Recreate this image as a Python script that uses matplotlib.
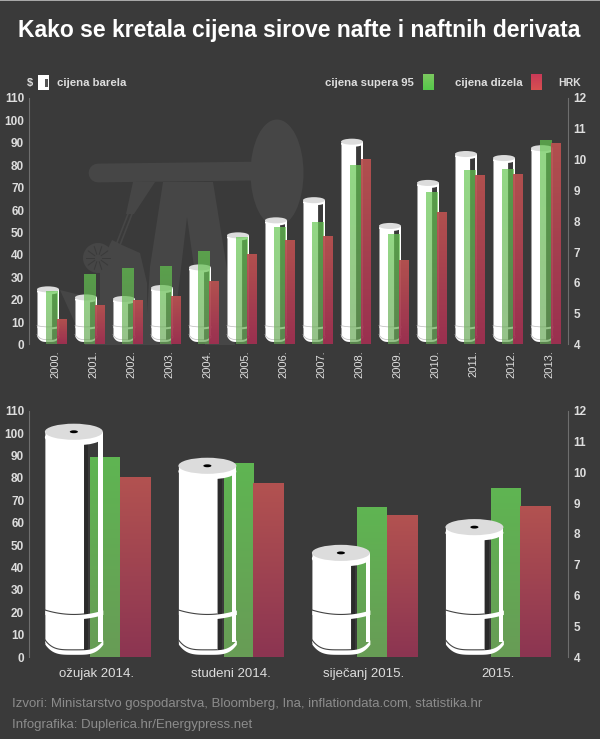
import numpy as np
import matplotlib
matplotlib.use("Agg")
import matplotlib.pyplot as plt
from matplotlib.colors import LinearSegmentedColormap
from matplotlib.patches import Ellipse, Polygon, Circle, Rectangle

plt.rcParams['font.family'] = ['Liberation Sans', 'DejaVu Sans']

BG = '#3a3a3a'
PUMP = '#464646'
W, H = 600, 739

# gornji graf, godine
years = ['2000.', '2001.', '2002.', '2003.', '2004.', '2005.', '2006.',
         '2007.', '2008.', '2009.', '2010.', '2011.', '2012.', '2013.']
barrel_years = [24.6, 21, 20.3, 25.2, 34.4, 48.7, 55.4, 64.4, 90.5, 52.9, 72.1, 85, 83.2, 87.6]
super95_years = [5.7, 6.24, 6.44, 6.5, 7.0, 7.46, 7.77, 7.95, 9.79, 7.55, 8.93, 9.62, 9.65, 10.6]
diesel_years = [4.79, 5.24, 5.4, 5.54, 6.02, 6.9, 7.35, 7.48, 9.98, 6.7, 8.26, 9.46, 9.5, 10.5]

# donji graf
periods = ['ožujak 2014.', 'studeni 2014.', 'siječanj 2015.', '2015.']
barrel_periods = [100.6, 85.4, 46.5, 58]
super95_periods = [10.48, 10.3, 8.85, 9.47]
diesel_periods = [9.82, 9.65, 8.58, 8.9]

left_ticks = list(range(0, 111, 10))
right_ticks = list(range(4, 13))

GREEN = LinearSegmentedColormap.from_list('g', ['#5fb552', '#689c56'])
RED = LinearSegmentedColormap.from_list('r', ['#b25250', '#8c3552'])
GREEN_TOP = LinearSegmentedColormap.from_list('g2', ['#64c850', '#6aa858'])
RED_TOP = LinearSegmentedColormap.from_list('r2', ['#b85250', '#a03052'])
GRAD = np.linspace(0, 1, 64).reshape(-1, 1)


def px_axes(fig, x0, x1, y_top, y_bottom):
    return fig.add_axes([x0 / W, 1 - y_bottom / H, (x1 - x0) / W, (y_bottom - y_top) / H])


def gradient_bars(ax, xs, values, width, cmap, base=4, alpha=1.0):
    bars = ax.bar(xs, np.array(values) - base, width, bottom=base, align='edge', facecolor='none', linewidth=0)
    for b in bars:
        ax.imshow(GRAD, extent=[b.get_x(), b.get_x() + b.get_width(), base, base + b.get_height()],
                  cmap=cmap, aspect='auto', alpha=alpha, zorder=3, origin='upper')


def band(ax, x0, x1, y_end, sag, thick, power=2, color='white', zorder=2):
    t = np.linspace(-1, 1, 40)
    xs = x0 + (x1 - x0) * (t + 1) / 2
    yc = y_end - sag * (1 - t ** power)
    ax.fill_between(xs, yc - thick / 2, yc + thick / 2, color=color, linewidth=0, zorder=zorder)
    return xs, yc


def draw_barrel(ax, left, w, top, ry, hoop, hoop_sag, foot, foot_sag, thick, line, lw, hole):
    # bijeli dio, prorez desno, pa obruci preko proreza
    body = 0.68 * w
    ax.add_patch(Rectangle((left + 0.925 * w, foot), 0.075 * w, top - foot, color='white', lw=0, zorder=2))
    ax.add_patch(Rectangle((left + body, foot - foot_sag), 0.07 * w, top - foot + foot_sag,
                           color='#262626', alpha=0.75, lw=0, zorder=1.9))
    t = np.linspace(-1, 1, 40)
    xs = left + w * (t + 1) / 2
    yc = foot - foot_sag * (1 - t ** 4)
    keep = xs <= left + body
    ax.fill_between(xs[keep], yc[keep], top, color='white', linewidth=0, zorder=2)
    for y_end, sag, power in [(hoop, hoop_sag, 2), (foot, foot_sag, 4)]:
        xs, yc = band(ax, left, left + w, y_end, sag, thick, power)
        keep = xs < left + body
        ax.plot(xs[keep], (yc + thick / 2)[keep], color=line, lw=lw, zorder=2.1)
    ax.add_patch(Ellipse((left + w / 2, top - 0.7 * ry), w, 2 * ry, color='white', lw=0, zorder=2.2))
    ax.add_patch(Ellipse((left + w / 2, top), w, 2 * ry, color='#dcdcdc', lw=0, zorder=2.3))
    if hole:
        ax.add_patch(Ellipse((left + w / 2, top), 0.14 * w, 0.36 * ry, color='black', lw=0, zorder=2.4))


def style_axes(ax, ax2, xlim):
    for a in (ax, ax2):
        a.set_xlim(*xlim)
        for s in a.spines.values():
            s.set_visible(False)
        a.patch.set_visible(False)
    ax.set_ylim(0, 110)
    ax2.set_ylim(4, 12)
    ax.spines['left'].set_visible(True)
    ax.spines['left'].set_color('#6e6e6e')
    ax2.spines['right'].set_visible(True)
    ax2.spines['right'].set_color('#6e6e6e')
    ax.set_yticks(left_ticks)
    ax2.set_yticks(right_ticks)
    ax.tick_params(axis='y', length=0, pad=3.5, labelcolor='#dddddd')
    ax2.tick_params(axis='y', length=0, pad=4, labelcolor='#dddddd')
    ax2.tick_params(axis='x', length=0, labelbottom=False)
    for lab in ax.get_yticklabels() + ax2.get_yticklabels():
        lab.set_fontsize(8.5)
        lab.set_fontweight('bold')


def draw_pump(bg):
    bg.add_patch(Ellipse((277, 173), 53, 107, color=PUMP, lw=0))
    bg.plot([98, 262], [173, 171], color=PUMP, lw=13.5, solid_capstyle='round')
    bg.add_patch(Polygon([(163, 182), (213, 182), (232, 300), (235, 345), (205, 345), (187, 217),
                          (172, 345), (145, 345), (150, 267)], color=PUMP, lw=0))
    bg.add_patch(Polygon([(133, 182), (155, 182), (134, 214), (126, 214)], color=PUMP, lw=0))
    bg.plot([128, 116], [214, 245], color=PUMP, lw=1.2)
    bg.plot([132, 120], [214, 245], color=PUMP, lw=1.2)
    bg.add_patch(Polygon([(112, 240), (122, 245), (140, 253), (147, 283), (147, 345), (100, 345), (100, 265)],
                         color=PUMP, lw=0))
    bg.add_patch(Polygon([(60, 290), (100, 300), (100, 345), (85, 345)], color=PUMP, lw=0))
    bg.add_patch(Circle((98, 258), 15, color=PUMP, lw=0))
    for ang in np.deg2rad(np.arange(0, 360, 36)):
        bg.plot([98 + 4 * np.cos(ang), 98 + 12 * np.cos(ang)], [258 + 4 * np.sin(ang), 258 + 12 * np.sin(ang)],
                color=BG, lw=0.7)


fig = plt.figure(figsize=(W / 100, H / 100), dpi=100, facecolor=BG)

# pozadina u pikselima: silueta, naslov, legenda, izvori
bg = fig.add_axes([0, 0, 1, 1])
bg.set_xlim(0, W)
bg.set_ylim(H, 0)
bg.axis('off')
bg.add_patch(Rectangle((0, 0), W, 1.2, color='#a8a8a8', lw=0))
draw_pump(bg)

bg.text(18, 30, 'Kako se kretala cijena sirove nafte i naftnih derivata', color='white',
        fontsize=16.5, fontweight='bold', va='center', ha='left')
bg.text(27, 83, '$', color='#dddddd', fontsize=8, fontweight='bold', va='center')
bg.add_patch(Rectangle((38, 75), 11, 15, color='white', lw=0))
bg.add_patch(Rectangle((45, 79), 3, 8, color='#555555', lw=0))
bg.text(57, 83, 'cijena barela', color='#dddddd', fontsize=8.2, fontweight='bold', va='center')
bg.text(325, 83, 'cijena supera 95', color='#dddddd', fontsize=8.2, fontweight='bold', va='center')
bg.imshow(GRAD, extent=[423, 433.5, 90, 74], cmap=LinearSegmentedColormap.from_list('lg', ['#55c84a', '#7cc860']),
          aspect='auto', origin='lower')
bg.text(455, 83, 'cijena dizela', color='#dddddd', fontsize=8.2, fontweight='bold', va='center')
bg.imshow(GRAD, extent=[531, 542, 90, 74], cmap=LinearSegmentedColormap.from_list('lr', ['#d85050', '#c83a58']),
          aspect='auto', origin='lower')
bg.text(558, 83, 'HRK', color='#dddddd', fontsize=7.5, fontweight='bold', va='center')
bg.text(12, 704, 'Izvori: Ministarstvo gospodarstva, Bloomberg, Ina, inflationdata.com, statistika.hr',
        color='#8c8c8c', fontsize=9.5, va='center')
bg.text(12, 725, 'Infografika: Duplerica.hr/Energypress.net', color='#8c8c8c', fontsize=9.5, va='center')
bg.set_xlim(0, W)
bg.set_ylim(H, 0)

# gornji graf
ax = px_axes(fig, 29, 568, 98, 344.5)
ax2 = ax.twinx()
xs = np.arange(len(years))
for i, val in enumerate(barrel_years):
    draw_barrel(ax, i - 0.474, 0.579, val, 1.35, 8, 0.6, 4.0, 2.2, 0.9, '#b8b8b8', 0.5, False)
    ax.hlines(0, i - 0.474, i + 0.3, color='#2a2a2a', lw=0.7, zorder=1)
gradient_bars(ax2, xs - 0.237, super95_years, 0.29, GREEN_TOP, alpha=0.7)
gradient_bars(ax2, xs + 0.053, diesel_years, 0.25, RED_TOP, alpha=0.95)
style_axes(ax, ax2, (-0.684, 13.5))
ax.set_xticks(xs)
ax.set_xticklabels(years, rotation=90, fontsize=8, color='#dddddd')
ax.tick_params(axis='x', length=0, pad=4)

# donji graf, bacve idu preko stupaca
ax = px_axes(fig, 29, 568, 410.7, 657)
ax2 = ax.twinx()
ax.set_zorder(ax2.get_zorder() + 1)
xs = np.arange(len(periods))
for i, val in enumerate(barrel_periods):
    draw_barrel(ax, i - 0.39, 0.434, val, 3.6, 20, 2.0, 6.7, 4.5, 2.0, '#444444', 0.8, True)
    ax.hlines(0, i - 0.39, i + 0.397, color='#8a8a8a', lw=0.7, zorder=1)
gradient_bars(ax2, xs - 0.052, super95_periods, 0.224, GREEN)
gradient_bars(ax2, xs + 0.172, diesel_periods, 0.225, RED)
style_axes(ax, ax2, (-0.509, 3.528))
ax.set_xticks(xs)
ax.set_xticklabels(periods, fontsize=9.5, color='#dddddd', va='baseline')
ax.tick_params(axis='x', length=0, pad=14.5)

fig.savefig('out.png', dpi=100, facecolor=BG)
